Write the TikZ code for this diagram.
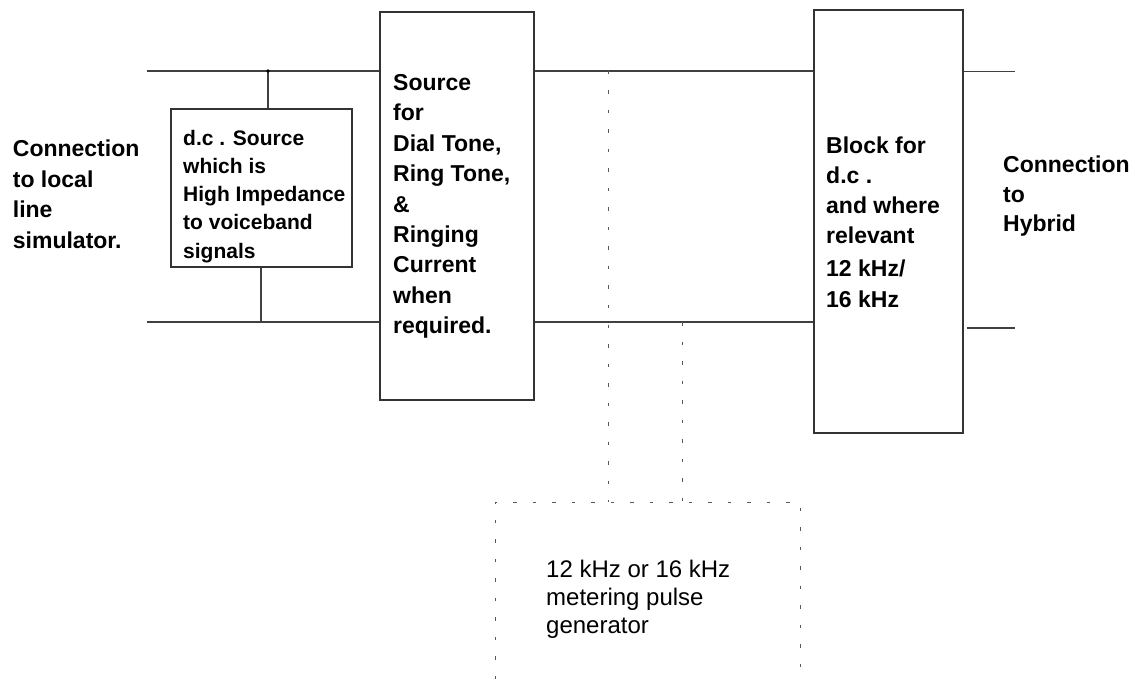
\documentclass[tikz,border=0pt]{standalone}
\usepackage{fontspec}
\setmainfont{Liberation Sans}
\begin{document}
\begin{tikzpicture}[x=1pt,y=-1pt,
  wire/.style={line width=1.1pt,draw=black!75},
  dotwire/.style={line width=1pt,draw=black!65,dash pattern=on 3.5pt off 16pt},
  blockbox/.style={draw=black!80,line width=1.1pt,rectangle,inner sep=0pt},
  bigtxt/.style={inner sep=0pt,anchor=base west,align=left,font=\bfseries\fontsize{23}{30.5}\selectfont},
  midtxt/.style={inner sep=0pt,anchor=base west,align=left,font=\bfseries\fontsize{21}{28.3}\selectfont},
  regtxt/.style={inner sep=0pt,anchor=base west,align=left,font=\fontsize{24}{28}\selectfont}]
\useasboundingbox (0,0) rectangle (1136,679);

% boxes
\node[blockbox,minimum width=181pt,minimum height=158pt] (dc) at (261.5,188) {};
\node[blockbox,minimum width=154pt,minimum height=388pt] (src) at (457,206) {};
\node[blockbox,minimum width=149pt,minimum height=423pt] (blk) at (888.5,221.5) {};

% texts (anchored at the baseline of their last line)
\node[bigtxt] (leftlbl) at (12.7,248.5) {Connection\\to local\\line\\simulator.};
\node[midtxt] (dctext) at (183,258.2) {d.c . Source\\which is\\High Impedance\\to voiceband\\signals};
\node[bigtxt] (srctext) at (393,334) {Source\\for\\Dial Tone,\\Ring Tone,\\\&\\Ringing\\Current\\when\\required.};
\node[bigtxt,font=\bfseries\fontsize{23}{30}\selectfont] (blktext) at (826,307.5) {Block for\\d.c .\\and where\\relevant\\[3pt]12 kHz/\\[1pt]16 kHz};
\node[bigtxt,font=\bfseries\fontsize{23}{29.5}\selectfont] (rightlbl) at (1003,232) {Connection\\to\\Hybrid};
\node[regtxt] (metertext) at (546,633) {12 kHz or 16 kHz\\metering pulse\\generator};

% coordinates
\coordinate (tl) at (147,71);
\coordinate (bl) at (147,322);
\coordinate (J) at (268,71);
\coordinate (K) at (261,322);
\coordinate (tr) at (1015,71.5);
\coordinate (br) at (1015,328);
\coordinate (p1) at (608,71);
\coordinate (p2) at (682,322);
\coordinate (gtl) at (495,502);
\coordinate (gtr) at (800,502);
\coordinate (gbl) at (495,679);
\coordinate (gbr) at (800,679);

% wires
\draw[wire] (tl) -- (tl -| src.west);
\draw[wire] (bl) -- (bl -| src.west);
\draw[wire] (J) -- (J |- dc.north);
\draw[wire] (K |- dc.south) -- (K);
\fill[black] (J) circle (1.8pt);
\draw[wire] (tl -| src.east) -- (tl -| blk.west);
\draw[wire] (bl -| src.east) -- (bl -| blk.west);
\draw[wire] (tr -| blk.east) -- (tr);
\draw[wire] ([xshift=3pt]br -| blk.east) -- (br);

% dotted metering connections
\draw[dotwire] (p1) -- (p1 |- gtl);
\draw[dotwire] (p2) -- (p2 |- gtl);
\draw[dotwire] (gbl) -- (gtl) -- (gtr) -- (gbr);
\end{tikzpicture}
\end{document}
